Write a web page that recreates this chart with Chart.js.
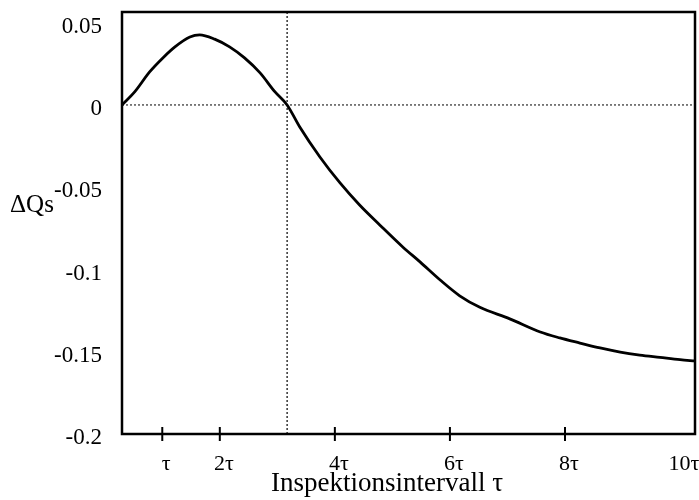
<!DOCTYPE html>
<html>
<head>
<meta charset="utf-8">
<script src="https://cdn.jsdelivr.net/npm/chart.js@4.4.0/dist/chart.umd.min.js"></script>
<style>
  html, body { margin: 0; padding: 0; background: #fff; }
</style>
</head>
<body>
<canvas id="chart" width="699" height="500"></canvas>
<script>
// Kurve: x in Vielfachen von tau, y = Delta Qs
const xWerte = [0.30, 0.52, 0.78, 1.01, 1.22, 1.48, 1.65, 1.91, 2.17, 2.43, 2.70, 2.96, 3.17,
                3.39, 3.74, 4.09, 4.43, 4.78, 5.18, 5.48, 5.83, 6.17, 6.52, 7.04, 7.57, 7.91,
                8.26, 8.61, 8.96, 9.30, 9.65, 10.0, 10.26];
const dQs = [0.0, 0.0079, 0.0201, 0.0286, 0.0353, 0.0413, 0.0426, 0.0400, 0.0353, 0.0286, 0.0195, 0.0079, 0.0,
             -0.0134, -0.0316, -0.0474, -0.0608, -0.0729, -0.0863, -0.0954, -0.1064, -0.1160, -0.1230, -0.1300, -0.1380, -0.1416,
             -0.1447, -0.1477, -0.1502, -0.1520, -0.1534, -0.1548, -0.1556];

const yTicks = [-0.2, -0.15, -0.1, -0.05, 0, 0.05];
const xTicks = [1, 2, 4, 6, 8, 10];
const xTickLabels = ['τ', '2τ', '4τ', '6τ', '8τ', '10τ'];
const xTickMarks = [1, 2, 4, 6, 8];
const nullstelle = 3.17;
const xMin = 0.3, xMax = 10.26, yMin = -0.2, yMax = 0.0565;

const schrift = "'Liberation Serif', 'Times New Roman', serif";

// Rahmen, Teilstriche und Achsentitel
const rahmenPlugin = {
  id: 'rahmen',
  afterDraw(chart) {
    const ctx = chart.ctx;
    const a = chart.chartArea;
    const xs = chart.scales.x, ys = chart.scales.y;
    ctx.save();
    ctx.strokeStyle = '#000';
    ctx.lineWidth = 2.5;
    ctx.strokeRect(a.left, a.top, a.right - a.left, a.bottom - a.top);
    ctx.lineWidth = 2;
    xTickMarks.forEach(v => {
      const px = xs.getPixelForValue(v);
      ctx.beginPath();
      ctx.moveTo(px, a.bottom - 7);
      ctx.lineTo(px, a.bottom + 7);
      ctx.stroke();
    });
    ctx.fillStyle = '#000';
    ctx.font = '25px ' + schrift;
    ctx.textAlign = 'left';
    ctx.textBaseline = 'alphabetic';
    ctx.fillText('ΔQs', 10, ys.getPixelForValue(-0.05) + 25);
    ctx.font = '27px ' + schrift;
    ctx.textAlign = 'center';
    ctx.textBaseline = 'middle';
    ctx.fillText('Inspektionsintervall τ', a.left + 265, a.bottom + 50);
    ctx.restore();
  }
};

const ctx = document.getElementById('chart').getContext('2d');
const chart = new Chart(ctx, {
  type: 'line',
  data: {
    datasets: [{
      data: xWerte.map((x, i) => ({ x: x, y: dQs[i] })),
      borderColor: '#000',
      borderWidth: 2.8,
      pointRadius: 0,
      cubicInterpolationMode: 'monotone',
      fill: false,
      order: 0
    }, {
      data: [{ x: xMin, y: 0 }, { x: xMax, y: 0 }],
      borderColor: '#000',
      borderWidth: 1,
      borderDash: [2, 2],
      pointRadius: 0,
      order: 1
    }, {
      data: [{ x: nullstelle, y: yMin }, { x: nullstelle, y: yMax }],
      borderColor: '#000',
      borderWidth: 1.2,
      borderDash: [2, 2],
      pointRadius: 0,
      order: 1
    }]
  },
  options: {
    responsive: false,
    devicePixelRatio: 1,
    animation: false,
    layout: { padding: { top: 12, right: 4, left: 0, bottom: 0 } },
    plugins: {
      legend: { display: false },
      tooltip: { enabled: false }
    },
    scales: {
      x: {
        type: 'linear',
        min: xMin,
        max: xMax,
        grid: { display: false },
        border: { display: false },
        afterBuildTicks: s => { s.ticks = xTicks.map(v => ({ value: v })); },
        afterFit: s => { s.height = 66; s.paddingLeft = 0; s.paddingRight = 0; },
        ticks: {
          color: '#000',
          padding: 9,
          labelOffset: 4,
          maxRotation: 0,
          autoSkip: false,
          font: { family: schrift, size: 22 },
          callback: v => xTickLabels[xTicks.indexOf(v)]
        }
      },
      y: {
        min: yMin,
        max: yMax,
        grid: { display: false },
        border: { display: false },
        afterBuildTicks: s => { s.ticks = yTicks.map(v => ({ value: v })); },
        afterFit: s => { s.width = 122; s.paddingTop = 0; s.paddingBottom = 0; },
        ticks: {
          color: '#000',
          padding: 12,
          labelOffset: 4,
          font: { family: schrift, size: 23 },
          callback: v => String(v)
        }
      }
    }
  },
  plugins: [rahmenPlugin]
});
</script>
</body>
</html>
